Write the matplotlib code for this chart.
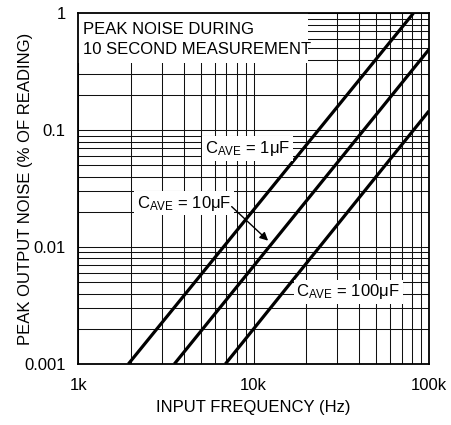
import matplotlib
matplotlib.use('Agg')
import matplotlib.pyplot as plt
from matplotlib.patches import Rectangle
from matplotlib.ticker import FixedLocator, FixedFormatter, LogLocator, NullFormatter

plt.rcParams['font.family'] = ['Liberation Sans', 'DejaVu Sans']
plt.rcParams['mathtext.fontset'] = 'custom'
plt.rcParams['mathtext.rm'] = 'Liberation Sans'
plt.rcParams['mathtext.it'] = 'Liberation Sans'

FS = 12

# curves (end points of each straight line on log-log)
f_1u = [1930, 81500]
n_1u = [0.001, 1.0]
f_10u = [3530, 100000]
n_10u = [0.001, 0.49]
f_100u = [6900, 100000]
n_100u = [0.001, 0.146]

xticks = [1e3, 1e4, 1e5]
xlabels = ['1k', '10k', '100k']
yticks = [0.001, 0.01, 0.1, 1]
ylabels = ['0.001', '0.01', '0.1', '1']

fig = plt.figure(figsize=(4.51, 4.25), dpi=100)
ax = fig.add_axes([0.1736, 0.1435, 0.951 - 0.1736, 0.9687 - 0.1435])

ax.set_xscale('log')
ax.set_yscale('log')
ax.set_xlim(1e3, 1e5)
ax.set_ylim(0.001, 1)

for f, n in [(f_1u, n_1u), (f_10u, n_10u), (f_100u, n_100u)]:
    ax.plot(f, n, color='black', lw=2.3, solid_capstyle='butt', zorder=4)

ax.xaxis.set_major_locator(FixedLocator(xticks))
ax.xaxis.set_major_formatter(FixedFormatter(xlabels))
ax.yaxis.set_major_locator(FixedLocator(yticks))
ax.yaxis.set_major_formatter(FixedFormatter(ylabels))
ax.xaxis.set_minor_locator(LogLocator(base=10, subs=range(2, 10)))
ax.yaxis.set_minor_locator(LogLocator(base=10, subs=range(2, 10)))
ax.xaxis.set_minor_formatter(NullFormatter())
ax.yaxis.set_minor_formatter(NullFormatter())
ax.tick_params(which='both', length=0, labelsize=FS)
ax.tick_params(axis='y', pad=9)
ax.tick_params(axis='x', pad=10)
ax.grid(which='both', color='#111111', lw=0.75)
for s in ax.spines.values():
    s.set_linewidth(1.3)
    s.set_zorder(7)

ax.set_xlabel('INPUT FREQUENCY (Hz)', fontsize=FS)
ax.set_ylabel('PEAK OUTPUT NOISE (% OF READING)', fontsize=FS)
ax.xaxis.set_label_coords(0.5, -0.102)
ax.yaxis.label.set_va('center')
ax.yaxis.set_label_coords(-0.15, 0.5)

# white patch behind the note in the top-left corner
ax.add_patch(Rectangle((0, 0.858), 0.655, 0.142, transform=ax.transAxes,
                       facecolor='white', edgecolor='none', zorder=5))
ax.text(0.013, 0.975, 'PEAK NOISE DURING\n10 SECOND MEASUREMENT', transform=ax.transAxes,
        ha='left', va='top', fontsize=FS, linespacing=1.45, zorder=6)

box = dict(facecolor='white', edgecolor='none', pad=2)
ax.text(9.2e3, 0.070, r'C$_{\mathrm{AVE}}$ = 1$\mathrm{\mu}$F', ha='center', va='center',
        fontsize=FS, bbox=box, zorder=5)
ax.text(4.0e3, 0.0238, r'C$_{\mathrm{AVE}}$ = 10$\mathrm{\mu}$F', ha='center', va='center',
        fontsize=FS, bbox=box, zorder=5)
ax.text(3.47e4, 0.00414, r'C$_{\mathrm{AVE}}$ = 100$\mathrm{\mu}$F', ha='center', va='center',
        fontsize=FS, bbox=box, zorder=5)

ax.annotate('', xy=(1.21e4, 0.01135), xytext=(7.5e3, 0.0222),
            arrowprops=dict(arrowstyle='-|>', color='black', lw=1.0, mutation_scale=12,
                            shrinkA=0, shrinkB=0),
            zorder=6)

fig.savefig('out.png', dpi=100)
